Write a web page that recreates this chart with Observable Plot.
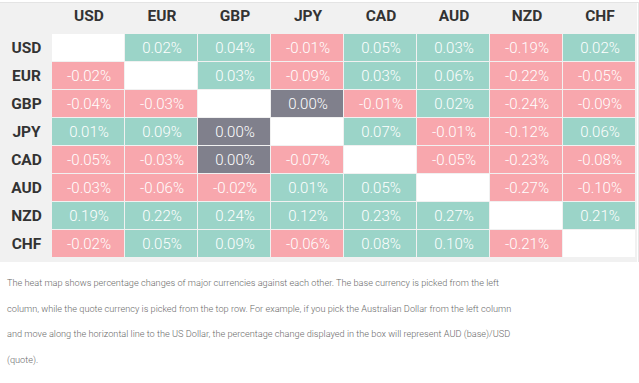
<!DOCTYPE html>
<html>
<head>
<meta charset="utf-8">
<script src="https://cdn.jsdelivr.net/npm/d3@7"></script>
<script src="https://cdn.jsdelivr.net/npm/@observablehq/plot@0.6"></script>
<style>
  html, body { margin: 0; padding: 0; background: #fff; }
  #wrap { position: relative; width: 639px; padding-top: 2px; }
  #chart { border-top: 1px solid #e4e4e4; width: 638px; border-right: 1px solid #e6e6e6; }
  #chart svg { display: block; }
  #caption {
    font-family: Roboto, sans-serif; font-weight: 300; font-size: 9.2px;
    color: #6a6a6a; line-height: 25.7px; margin: 0; padding: 8px 0 0 7px;
    width: 500px; white-space: normal;
  }
  #caption span { display: block; white-space: nowrap; }
</style>
</head>
<body>
<div id="wrap">
  <div id="chart"></div>
  <p id="caption"><span>The heat map shows percentage changes of major currencies against each other. The base currency is picked from the left</span><span>column, while the quote currency is picked from the top row. For example, if you pick the Australian Dollar from the left column</span><span>and move along the horizontal line to the US Dollar, the percentage change displayed in the box will represent AUD (base)/USD</span><span>(quote).</span></p>
</div>
<script>
const currencies = ["USD", "EUR", "GBP", "JPY", "CAD", "AUD", "NZD", "CHF"];

// rows = base currency, columns = quote currency (null = diagonal)
const rowUSD = [null, 0.02, 0.04, -0.01, 0.05, 0.03, -0.19, 0.02];
const rowEUR = [-0.02, null, 0.03, -0.09, 0.03, 0.06, -0.22, -0.05];
const rowGBP = [-0.04, -0.03, null, 0.00, -0.01, 0.02, -0.24, -0.09];
const rowJPY = [0.01, 0.09, 0.00, null, 0.07, -0.01, -0.12, 0.06];
const rowCAD = [-0.05, -0.03, 0.00, -0.07, null, -0.05, -0.23, -0.08];
const rowAUD = [-0.03, -0.06, -0.02, 0.01, 0.05, null, -0.27, -0.10];
const rowNZD = [0.19, 0.22, 0.24, 0.12, 0.23, 0.27, null, 0.21];
const rowCHF = [-0.02, 0.05, 0.09, -0.06, 0.08, 0.10, -0.21, null];

const rows = [rowUSD, rowEUR, rowGBP, rowJPY, rowCAD, rowAUD, rowNZD, rowCHF];

const cells = [];
rows.forEach((r, i) => r.forEach((v, j) => {
  cells.push({
    base: currencies[i],
    quote: currencies[j],
    value: v,
    kind: v == null ? "none" : v > 0 ? "up" : v < 0 ? "down" : "flat",
    label: v == null ? "" : v.toFixed(2) + "%"
  });
}));

const chart = Plot.plot({
  width: 637,
  height: 259,
  marginLeft: 52,
  marginRight: 1,
  marginTop: 28,
  marginBottom: 1,
  style: { background: "#f1f1f1", fontFamily: "Roboto, sans-serif", overflow: "visible" },
  x: { domain: currencies, padding: 0, axis: null },
  y: { domain: currencies, padding: 0, axis: null },
  color: {
    type: "ordinal",
    domain: ["up", "down", "flat", "none"],
    range: ["#9bd4c8", "#f8a7ad", "#80808c", "#ffffff"]
  },
  marks: [
    Plot.cell(cells, { x: "quote", y: "base", fill: "kind", insetRight: 1, insetBottom: 1 }),
    Plot.text(cells, {
      x: "quote", y: "base", text: "label", fill: "#ffffff",
      fontSize: 15, fontWeight: 300, dy: -0.5
    }),
    Plot.axisX({
      anchor: "top", tickSize: 0, tickPadding: 15, lineAnchor: "middle",
      fontSize: 15.5, fontWeight: 700, fill: "#333333", label: null
    }),
    Plot.axisY({
      anchor: "left", tickSize: 0, tickPadding: 26, textAnchor: "middle",
      fontSize: 15.5, fontWeight: 700, fill: "#333333", label: null
    })
  ]
});
document.getElementById("chart").appendChild(chart);
</script>
</body>
</html>
